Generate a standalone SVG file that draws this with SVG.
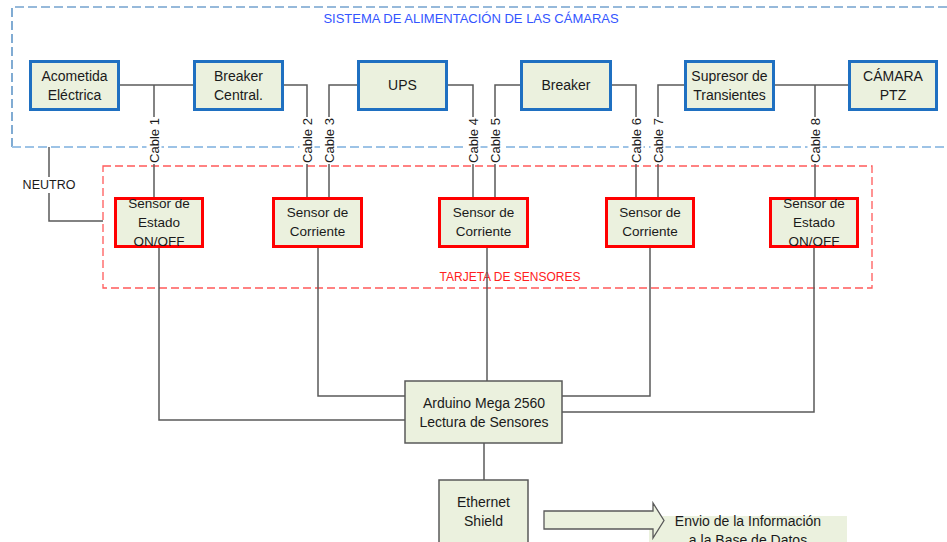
<svg xmlns="http://www.w3.org/2000/svg" width="947" height="542" viewBox="0 0 947 542">
<style>
  .t{font-family:"Liberation Sans",Arial,sans-serif;fill:#1a1a1a;text-anchor:middle}
  .bx{font-size:14px}
  .sx{font-size:13.5px}
  .cab{font-size:13px}
  .blue{fill:#EBF1DE;stroke:#1F70C1;stroke-width:3}
  .red{fill:#EBF1DE;stroke:#FF0000;stroke-width:3}
  .gray{fill:#EBF1DE;stroke:#595959;stroke-width:1.5}
  .ln{fill:none;stroke:#5A5A5A;stroke-width:1.5}
  .bg{fill:#ffffff}
</style>
<rect width="947" height="542" fill="#ffffff"/>

<g id="frames">
  <path d="M947,7 H12 V147" fill="none" stroke="#2E75B6" stroke-width="1.2" stroke-dasharray="9,4"/>
  <path d="M12,147 H947" fill="none" stroke="#9DC3E6" stroke-width="2" stroke-dasharray="9,4"/>
  <text class="t" x="471" y="23" font-size="13" fill="#3355FF" style="fill:#3355FF">SISTEMA DE ALIMENTACIÓN DE LAS CÁMARAS</text>
  <rect x="103" y="166" width="769" height="122" fill="none" stroke="#FF5A5A" stroke-width="1.3" stroke-dasharray="8,4"/>
  <text class="t" x="510" y="281" font-size="12" style="fill:#FF2020">TARJETA DE SENSORES</text>
</g>

<g id="connectors">
  <path class="ln" d="M120,85 H193"/>
  <path class="ln" d="M154,85 V197"/>
  <path class="ln" d="M284,85 H307 V197"/>
  <path class="ln" d="M357,85 H329 V197"/>
  <path class="ln" d="M448,85 H473 V197"/>
  <path class="ln" d="M520,85 H495 V197"/>
  <path class="ln" d="M612,85 H636 V197"/>
  <path class="ln" d="M684,85 H658 V197"/>
  <path class="ln" d="M775,85 H848"/>
  <path class="ln" d="M815,85 V197"/>
  <path class="ln" d="M49,147 V221 H103"/>
  <path class="ln" d="M159,248 V420 H405"/>
  <path class="ln" d="M318,248 V396 H405"/>
  <path class="ln" d="M487,248 V381"/>
  <path class="ln" d="M650,248 V396 H562"/>
  <path class="ln" d="M814,248 V412 H562"/>
  <path class="ln" d="M484,443 V480"/>
</g>

<g id="cable-labels">
  <rect class="bg" x="146.5" y="117" width="15" height="47"/>
  <text class="t cab" transform="translate(154,140.5) rotate(-90)" y="4.5">Cable 1</text>
  <rect class="bg" x="299.5" y="117" width="15" height="47"/>
  <text class="t cab" transform="translate(307,140.5) rotate(-90)" y="4.5">Cable 2</text>
  <rect class="bg" x="321.5" y="117" width="15" height="47"/>
  <text class="t cab" transform="translate(329,140.5) rotate(-90)" y="4.5">Cable 3</text>
  <rect class="bg" x="465.5" y="117" width="15" height="47"/>
  <text class="t cab" transform="translate(473,140.5) rotate(-90)" y="4.5">Cable 4</text>
  <rect class="bg" x="487.5" y="117" width="15" height="47"/>
  <text class="t cab" transform="translate(495,140.5) rotate(-90)" y="4.5">Cable 5</text>
  <rect class="bg" x="628.5" y="117" width="15" height="47"/>
  <text class="t cab" transform="translate(636,140.5) rotate(-90)" y="4.5">Cable 6</text>
  <rect class="bg" x="650.5" y="117" width="15" height="47"/>
  <text class="t cab" transform="translate(658,140.5) rotate(-90)" y="4.5">Cable 7</text>
  <rect class="bg" x="807.5" y="117" width="15" height="47"/>
  <text class="t cab" transform="translate(815,140.5) rotate(-90)" y="4.5">Cable 8</text>
  <rect class="bg" x="20" y="177" width="60" height="16"/>
  <text class="t" x="49" y="189" font-size="12.5">NEUTRO</text>
</g>

<g id="acometida">
  <rect class="blue" x="30.5" y="61.5" width="88" height="48"/>
  <text class="t bx" x="74.5" y="81">Acometida</text>
  <text class="t bx" x="74.5" y="99.5">Eléctrica</text>
</g>
<g id="breaker-central">
  <rect class="blue" x="194.5" y="61.5" width="88" height="48"/>
  <text class="t bx" x="238.5" y="81">Breaker</text>
  <text class="t bx" x="238.5" y="99.5">Central.</text>
</g>
<g id="ups">
  <rect class="blue" x="358.5" y="61.5" width="88" height="48"/>
  <text class="t bx" x="402.5" y="90">UPS</text>
</g>
<g id="breaker">
  <rect class="blue" x="521.5" y="61.5" width="89" height="48"/>
  <text class="t bx" x="566" y="90">Breaker</text>
</g>
<g id="supresor">
  <rect class="blue" x="685.5" y="61.5" width="88" height="48"/>
  <text class="t bx" x="729.5" y="81">Supresor de</text>
  <text class="t bx" x="729.5" y="99.5">Transientes</text>
</g>
<g id="camara">
  <rect class="blue" x="849.5" y="61.5" width="87" height="48"/>
  <text class="t bx" x="893" y="81">CÁMARA</text>
  <text class="t bx" x="893" y="99.5">PTZ</text>
</g>

<g id="sensor-estado-1">
  <rect class="red" x="115.5" y="198.5" width="87" height="48"/>
  <text class="t sx" x="159" y="208">Sensor de</text>
  <text class="t sx" x="159" y="227">Estado</text>
  <text class="t sx" x="159" y="246">ON/OFF</text>
</g>
<g id="sensor-corriente-1">
  <rect class="red" x="273.5" y="198.5" width="88" height="48"/>
  <text class="t sx" x="317.5" y="217">Sensor de</text>
  <text class="t sx" x="317.5" y="236">Corriente</text>
</g>
<g id="sensor-corriente-2">
  <rect class="red" x="439.5" y="198.5" width="88" height="48"/>
  <text class="t sx" x="483.5" y="217">Sensor de</text>
  <text class="t sx" x="483.5" y="236">Corriente</text>
</g>
<g id="sensor-corriente-3">
  <rect class="red" x="606.5" y="198.5" width="87" height="48"/>
  <text class="t sx" x="650" y="217">Sensor de</text>
  <text class="t sx" x="650" y="236">Corriente</text>
</g>
<g id="sensor-estado-2">
  <rect class="red" x="770.5" y="198.5" width="87" height="48"/>
  <text class="t sx" x="814" y="208">Sensor de</text>
  <text class="t sx" x="814" y="227">Estado</text>
  <text class="t sx" x="814" y="246">ON/OFF</text>
</g>

<g id="arduino">
  <rect class="gray" x="405" y="381" width="157" height="62"/>
  <text class="t bx" x="484" y="408">Arduino Mega 2560</text>
  <text class="t bx" x="484" y="427">Lectura de Sensores</text>
</g>
<g id="ethernet">
  <rect class="gray" x="439" y="480" width="89" height="72"/>
  <text class="t bx" x="483.5" y="507">Ethernet</text>
  <text class="t bx" x="483.5" y="526">Shield</text>
</g>
<g id="envio">
  <rect x="649" y="516" width="198" height="30" fill="#EBF1DE"/>
  <polygon points="544,511 653,511 653,503 664,520.5 653,538 653,529 544,529" fill="#EBF1DE" stroke="#595959" stroke-width="1.3"/>
  <text class="t bx" x="748" y="526">Envio de la Información</text>
  <text class="t bx" x="748" y="545">a la Base de Datos</text>
</g>
</svg>
